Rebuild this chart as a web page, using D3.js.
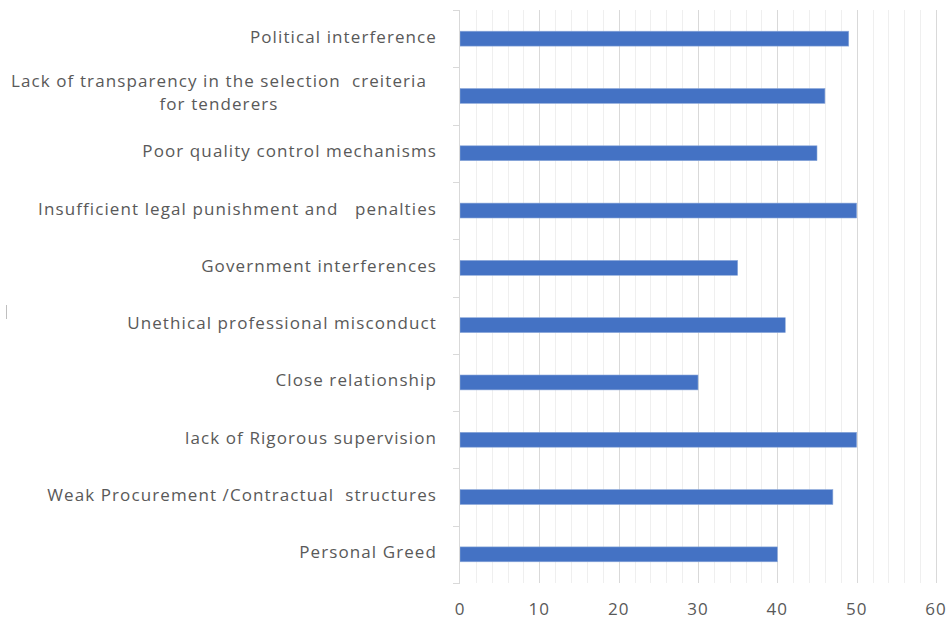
<!DOCTYPE html>
<html>
<head>
<meta charset="utf-8">
<script src="https://cdn.jsdelivr.net/npm/d3@7"></script>
<style>
  body { margin: 0; background: #fff; }
  text { font-family: "Open Sans", sans-serif; fill: #595959; white-space: pre; }
</style>
</head>
<body>
<div id="chart"></div>
<script>
// categories top to bottom
const categories = [
  "Political interference",
  "Lack of transparency in the selection  creiteria|for tenderers",
  "Poor quality control mechanisms",
  "Insufficient legal punishment and   penalties",
  "Government interferences",
  "Unethical professional misconduct",
  "Close relationship",
  "lack of Rigorous supervision",
  "Weak Procurement /Contractual  structures",
  "Personal Greed"
];
const values = [49, 46, 45, 50, 35, 41, 30, 50, 47, 40];
const xTicks = [0, 10, 20, 30, 40, 50, 60];

const width = 948, height = 622;
const margin = { left: 460, right: 12, top: 10, bottom: 39 };

const svg = d3.select("#chart").append("svg")
  .attr("width", width)
  .attr("height", height);

const x = d3.scaleLinear().domain([0, 60]).range([margin.left, 936]);
const y = d3.scaleBand()
  .domain(categories)
  .range([margin.top, height - margin.bottom])
  .paddingInner(0.74)
  .paddingOuter(0.37);

// minor gridlines every 2
svg.append("g")
  .selectAll("line")
  .data(d3.range(2, 61, 2).filter(d => d % 10 !== 0))
  .enter().append("line")
    .attr("x1", d => Math.round(x(d)) + 0.5)
    .attr("x2", d => Math.round(x(d)) + 0.5)
    .attr("y1", margin.top)
    .attr("y2", height - margin.bottom)
    .attr("stroke", "#efefef")
    .attr("stroke-width", 1);

// major gridlines
svg.append("g")
  .selectAll("line")
  .data(xTicks.slice(1))
  .enter().append("line")
    .attr("x1", d => Math.round(x(d)) + 0.5)
    .attr("x2", d => Math.round(x(d)) + 0.5)
    .attr("y1", margin.top)
    .attr("y2", height - margin.bottom)
    .attr("stroke", "#d9d9d9")
    .attr("stroke-width", 1);

// bars
svg.append("g")
  .selectAll("rect")
  .data(values)
  .enter().append("rect")
    .attr("x", x(0))
    .attr("y", (d, i) => y(categories[i]))
    .attr("width", d => x(d) - x(0))
    .attr("height", y.bandwidth())
    .attr("fill", "#4472c4")
    .attr("stroke", "#8eaadb")
    .attr("stroke-width", 0.6);

// category axis
const catAxis = svg.append("g");
catAxis.append("line")
  .attr("x1", x(0) - 0.5).attr("x2", x(0) - 0.5)
  .attr("y1", margin.top).attr("y2", height - margin.bottom)
  .attr("stroke", "#d9d9d9");
catAxis.selectAll(".tick")
  .data(d3.range(categories.length + 1))
  .enter().append("line")
    .attr("x1", x(0) - 7).attr("x2", x(0))
    .attr("y1", i => Math.round(margin.top + i * (height - margin.top - margin.bottom) / categories.length) + 0.5)
    .attr("y2", i => Math.round(margin.top + i * (height - margin.top - margin.bottom) / categories.length) + 0.5)
    .attr("stroke", "#d9d9d9");

// category labels
categories.forEach((c, i) => {
  const cy = y(c) + y.bandwidth() / 2;
  const lines = c.split("|");
  if (lines.length === 1) {
    svg.append("text")
      .attr("x", 437)
      .attr("y", cy - 2)
      .attr("dy", "0.35em")
      .attr("text-anchor", "end")
      .attr("font-size", 17)
      .attr("letter-spacing", 1.1)
      .text(c);
  } else {
    lines.forEach((l, j) => {
      svg.append("text")
        .attr("x", 219)
        .attr("y", cy + (j - 0.5) * 23 - 3)
        .attr("dy", "0.35em")
        .attr("text-anchor", "middle")
        .attr("font-size", 17)
        .attr("letter-spacing", 1.1)
        .text(l);
    });
  }
});

// value axis labels
svg.append("g")
  .selectAll("text")
  .data(xTicks)
  .enter().append("text")
    .attr("x", d => x(d))
    .attr("y", 609)
    .attr("dy", "0.35em")
    .attr("text-anchor", "middle")
    .attr("font-size", 17)
    .attr("letter-spacing", 1)
    .text(d => d);

// stray mark at left edge
svg.append("line")
  .attr("x1", 6.5).attr("x2", 6.5)
  .attr("y1", 305).attr("y2", 319)
  .attr("stroke", "#bfbfbf");
</script>
</body>
</html>
